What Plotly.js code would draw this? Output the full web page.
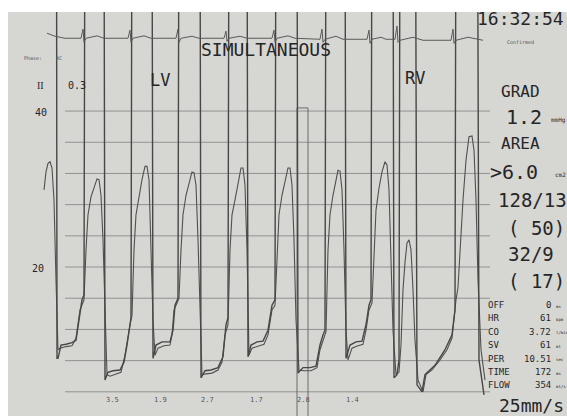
<!DOCTYPE html>
<html>
<head>
<meta charset="utf-8">
<script src="https://cdn.plot.ly/plotly-3.0.1.min.js"></script>
<style>html,body{margin:0;padding:0;background:#fff;}#chart{width:567px;height:416px;}</style>
</head>
<body>
<div id="chart"></div>
<script>
// ---- data (time in s, pressure in mmHg, ECG in mV) ----
var lvTime = [0.96,0.98,1.00,1.06,1.16,1.28,1.36,1.42,1.48,1.52,1.56,1.90,1.94,2.00,2.10,2.24,2.32,2.38,2.42,2.46,2.50,2.86,2.90,2.96,3.08,3.24,3.30,3.34,3.40,3.44,3.82,3.86,3.94,4.06,4.20,4.30,4.36,4.40,4.44,4.76,4.80,4.86,4.98,5.10,5.20,5.28,5.34,5.38,5.76,5.80,5.90,6.04,6.16,6.24,6.30,6.34,6.38,6.72,6.76,6.84,6.96,7.08,7.16,7.22,7.26,7.30,7.68,7.72,7.78,7.82,7.86,8.12,8.18,8.28,8.34,8.54,8.74,8.88,8.94,8.98,9.36,9.42,9.52];
var lvPressure = [128,8.3,8.3,10.0,10.1,10.3,10.6,13.5,15.8,16.4,128,128,5.5,6.5,6.7,6.8,7.8,10.0,11.9,13.5,128,128,8.3,10.0,10.4,10.4,11.9,15.1,16.0,128,128,5.8,6.7,6.8,7.1,8.5,12.6,13.5,128,128,8.5,10.0,10.4,10.5,11.9,15.1,15.8,128,128,6.4,7.1,7.1,7.3,10.0,11.3,11.9,128,128,8.3,10.0,10.4,10.5,12.6,15.1,15.8,128,128,5.8,6.2,8.1,128,128,4.9,4.0,6.2,7.4,9.4,11.3,14.5,128,128,8.1,3.6];

var rvTime = [0.72,0.76,0.80,0.84,0.88,0.92,0.96,1.00,1.04,1.16,1.28,1.36,1.44,1.52,1.56,1.60,1.66,1.72,1.78,1.82,1.86,1.90,1.94,1.98,2.04,2.16,2.26,2.34,2.40,2.44,2.48,2.52,2.56,2.62,2.68,2.74,2.78,2.82,2.86,2.90,2.94,3.00,3.12,3.24,3.28,3.32,3.38,3.42,3.46,3.50,3.56,3.62,3.68,3.72,3.76,3.80,3.84,3.88,3.96,4.08,4.20,4.28,4.34,4.40,4.44,4.48,4.54,4.60,4.66,4.70,4.74,4.78,4.82,4.88,5.00,5.12,5.20,5.28,5.34,5.38,5.42,5.48,5.54,5.60,5.64,5.68,5.72,5.76,5.82,5.92,6.06,6.18,6.24,6.30,6.36,6.40,6.44,6.50,6.56,6.60,6.64,6.68,6.72,6.76,6.80,6.88,7.00,7.10,7.16,7.22,7.28,7.32,7.36,7.42,7.48,7.54,7.58,7.62,7.66,7.70,7.76,7.82,7.86,7.90,7.94,7.98,8.02,8.06,8.10,8.14,8.20,8.30,8.36,8.48,8.64,8.78,8.88,8.92,8.96,9.00,9.04,9.10,9.16,9.22,9.28,9.32,9.36,9.40,9.46,9.54];
var rvPressure = [29.9,32.2,33.3,33.5,32.7,28.6,18.3,9.4,9.6,9.8,9.9,10.9,14.5,15.8,22.2,26.7,29.0,30.3,31.3,31.2,29.2,23.5,13.2,6.2,6.0,6.3,6.5,8.7,11.3,12.6,13.8,22.2,26.7,29.2,31.2,32.9,32.9,31.2,23.5,13.2,8.7,9.6,9.9,10.0,11.3,14.5,15.4,16.0,22.2,26.7,29.2,30.9,32.2,32.1,30.5,23.5,13.2,6.2,6.3,6.4,6.8,7.8,11.3,12.6,22.2,26.7,28.6,30.9,32.7,32.7,30.5,22.2,8.7,9.6,9.9,10.1,11.3,14.5,15.1,22.2,26.7,29.2,31.2,32.7,32.7,30.5,23.5,13.2,6.8,6.7,6.7,7.1,9.4,10.6,11.7,22.2,26.7,29.2,31.4,32.4,32.3,29.9,22.2,11.9,8.1,9.6,9.9,10.1,11.9,14.5,15.4,22.2,27.3,30.1,32.2,33.5,33.1,29.9,20.9,11.9,6.2,6.5,10.0,17.1,20.6,23.1,23.5,22.2,17.1,10.6,5.5,4.0,6.2,6.8,8.1,9.4,10.9,13.5,15.8,17.4,22.2,28.6,33.7,36.7,36.8,35.0,28.6,18.3,9.4,5.5];

var ecgTime = [0.78,0.94,1.14,1.46,1.50,1.52,1.56,1.78,1.92,2.40,2.44,2.46,2.50,2.72,2.86,3.36,3.40,3.42,3.46,3.68,3.82,4.32,4.36,4.38,4.42,4.64,4.78,5.28,5.32,5.34,5.38,5.60,5.74,6.24,6.28,6.30,6.34,6.56,6.70,7.18,7.22,7.24,7.28,7.46,7.56,7.74,7.78,7.80,7.84,8.10,8.30,8.86,8.90,8.92,8.96,9.20,9.50];
var ecgMv = [0.25,0.1,0,0,0.45,-0.2,0,0.12,0,0,0.4,-0.2,0,0.12,0,0,0.45,-0.2,0,0.1,0,0,0.35,-0.15,0,0.1,0,0,0.4,-0.2,0,0.12,0,-0.05,0.45,-0.2,-0.05,0.1,-0.05,-0.05,0.4,-0.25,-0.05,0.05,-0.05,-0.05,0.6,-0.2,-0.1,0.05,-0.1,-0.1,0.45,-0.25,-0.1,0.05,-0.1];

var calTime = [5.78, 5.78, 6.00, 6.00];
var calPressure = [0, 40.4, 40.4, 0];

var gridLevels = [4, 8, 12, 16, 20, 24, 28, 32, 36, 40];
var scaleLabels = ['40', '20'];
var beatLabels = ['3.5', '1.9', '2.7', '1.7', '2.8', '1.4'];
var sideLabels = ['OFF', 'HR', 'CO', 'SV', 'PER', 'TIME', 'FLOW'];
var sideValues = ['0', '61', '3.72', '61', '10.51', '172', '354'];
var sideUnits = ['ms', 'bpm', 'l/min', 'ml', 'sec', 'ms', 'ml/s'];

// ---- layout helpers (pixel -> paper fraction) ----
var L = 8, T = 12, W = 559, H = 404;
function fx(px) { return (px - L) / W; }
function fy(py) { return (T + H - py) / H; }
var MONO = 'DejaVu Sans Mono, Liberation Mono, monospace';
var INK = '#262626';
var annotations = [];
function ann(text, px, py, size, o) {
  o = o || {};
  annotations.push({
    text: text, xref: 'paper', yref: 'paper', x: fx(px), y: fy(py),
    xanchor: o.xa || 'left', yanchor: 'middle', showarrow: false,
    font: { family: o.family || MONO, size: size, color: o.color || INK }
  });
}

// header / left labels
ann('SIMULTANEOUS', 199, 50, 18);
ann('Phase:', 22, 58, 5, { color: '#555' });
ann('RC', 54, 58, 5, { color: '#555' });
ann('II', 35, 85, 10, { family: 'Liberation Serif, serif' });
ann('0.3', 66, 85, 10);
ann(scaleLabels[0], 33, 112, 10);
ann(scaleLabels[1], 30, 268, 10);
ann('LV', 148, 80, 17);
ann('RV', 403, 78, 17);
// right panel
ann('16:32:54', 475, 18, 18);
ann('Confirmed', 505, 42, 5, { color: '#555' });
ann('GRAD', 499, 92, 16);
ann('1.2', 504, 117, 20);
ann('mmHg', 549, 120, 6);
ann('AREA', 499, 144, 16);
ann('>6.0', 488, 172, 20);
ann('cm2', 553, 174, 6);
ann('128/13', 496, 200, 19);
ann('( 50)', 506, 228, 19);
ann('32/9', 506, 254, 19);
ann('( 17)', 506, 281, 19);
for (var i = 0; i < sideLabels.length; i++) {
  var yy = 305 + i * 13.4;
  ann(sideLabels[i], 486, yy, 9);
  ann(sideValues[i], 553, yy, 9, { xa: 'right' });
  ann(sideUnits[i], 554, yy + 1, 4);
}
ann('25mm/s', 497, 405, 18);
// beat labels under the tracing
var beatX = [112, 160, 207, 256, 303, 352];
for (var j = 0; j < beatLabels.length; j++) ann(beatLabels[j], beatX[j], 400, 7, { xa: 'center', color: '#555' });

// horizontal scale lines
var shapes = gridLevels.map(function (v) {
  return { type: 'line', xref: 'x', yref: 'y', x0: 1.14, x1: 9.64, y0: v, y1: v,
           line: { color: '#8a8a8a', width: 0.9 }, layer: 'below' };
});

var traces = [
  { x: calTime, y: calPressure, type: 'scatter', mode: 'lines', name: 'cal',
    line: { color: '#6a6a6a', width: 1 }, hoverinfo: 'skip' },
  { x: rvTime, y: rvPressure, type: 'scatter', mode: 'lines', name: 'RV',
    line: { color: '#505050', width: 1.1 }, hoverinfo: 'skip' },
  { x: lvTime, y: lvPressure, type: 'scatter', mode: 'lines', name: 'LV',
    line: { color: '#474747', width: 1.4 }, hoverinfo: 'skip' },
  { x: ecgTime, y: ecgMv, type: 'scatter', mode: 'lines', name: 'ECG', yaxis: 'y2',
    line: { color: '#5a5a5a', width: 1 }, hoverinfo: 'skip' }
];

var layout = {
  width: 567, height: 416,
  margin: { l: L, r: 0, t: T, b: 0, pad: 0 },
  paper_bgcolor: '#ffffff', plot_bgcolor: '#d6d6d3',
  showlegend: false,
  xaxis: { range: [0, 11.18], visible: false, fixedrange: true },
  yaxis: { range: [0.9, 52.7], visible: false, fixedrange: true },
  yaxis2: { range: [-18.7, 1.3], overlaying: 'y', visible: false, fixedrange: true },
  shapes: shapes,
  annotations: annotations
};

Plotly.newPlot('chart', traces, layout, { staticPlot: true, displayModeBar: false });
</script>
</body>
</html>
